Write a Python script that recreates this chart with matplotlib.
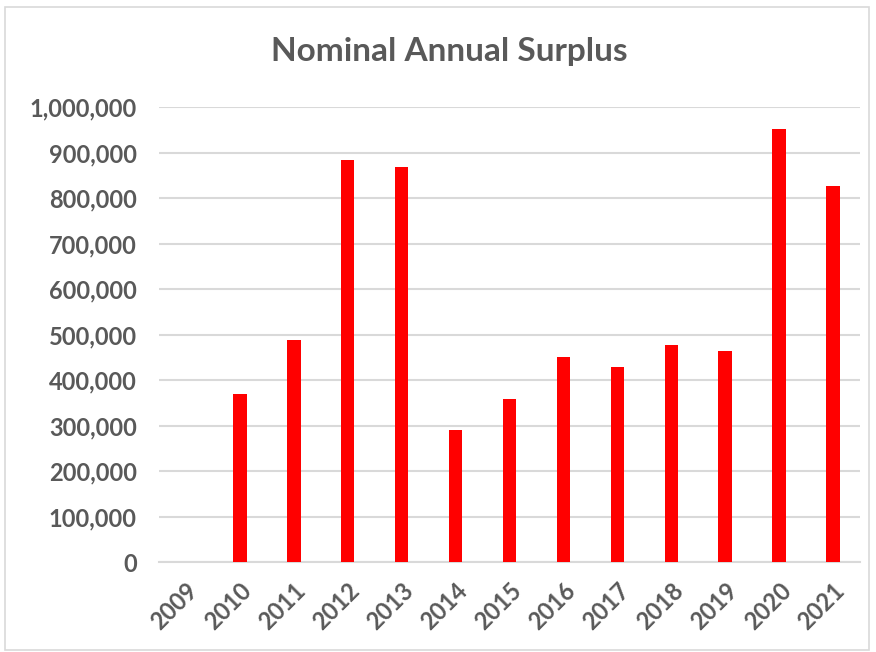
import matplotlib.pyplot as plt
from matplotlib.patches import Rectangle
from matplotlib.ticker import FuncFormatter

years = ["2009", "2010", "2011", "2012", "2013", "2014", "2015",
         "2016", "2017", "2018", "2019", "2020", "2021"]
surplus = [0, 370000, 489000, 883000, 869000, 291000, 359000,
           450000, 428000, 478000, 464000, 951000, 826000]

plt.rcParams['font.family'] = ['Lato', 'DejaVu Sans']
text_color = "#595959"
grid_color = "#d9d9d9"

fig = plt.figure(figsize=(8.76, 6.52), dpi=100)
fig.patches.append(Rectangle((5 / 876, 2 / 652), 864 / 876, 643 / 652,
                             transform=fig.transFigure, fill=False,
                             edgecolor="#d9d9d9", linewidth=1.2))

ax = fig.add_axes([159 / 876, 1 - 562 / 652, 701 / 876, 455 / 652])
x = range(len(years))
ax.bar(x, surplus, width=0.25, color="#ff0000", zorder=3)

ax.set_xlim(-0.5, len(years) - 0.5)
ax.set_ylim(0, 1000000)
ax.set_yticks(range(0, 1000001, 100000))
ax.yaxis.set_major_formatter(FuncFormatter(lambda v, p: f"{int(v):,}"))
ax.set_xticks(list(x))
ax.set_xticklabels(years, rotation=45, ha="right", rotation_mode="anchor")

ax.grid(axis="y", color=grid_color, linewidth=1.5, zorder=0)
for s in ["top", "right", "left"]:
    ax.spines[s].set_visible(False)
ax.spines["bottom"].set_color(grid_color)
ax.spines["bottom"].set_linewidth(1.5)
ax.tick_params(length=0, colors=text_color, labelsize=17)
for lbl in ax.get_xticklabels() + ax.get_yticklabels():
    lbl.set_fontweight("bold")
ax.tick_params(axis="y", pad=16)
ax.tick_params(axis="x", pad=12)

fig.text(449 / 876, 1 - 51 / 652, "Nominal Annual Surplus", ha="center",
         va="center", fontsize=24, fontweight="bold", color=text_color)

fig.savefig("out.png", dpi=100)
